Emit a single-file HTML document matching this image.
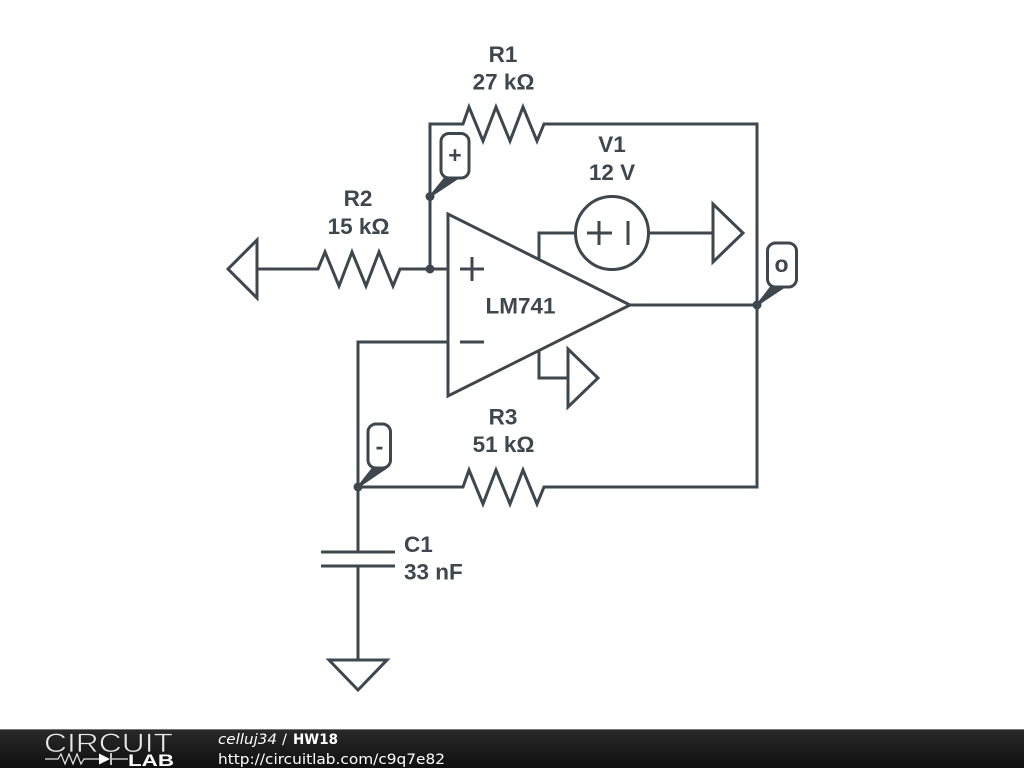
<!DOCTYPE html>
<html>
<head>
<meta charset="utf-8">
<style>
html,body{margin:0;padding:0;background:#fff}
svg{display:block}
</style>
</head>
<body>
<svg width="1024" height="768" viewBox="0 0 1024 768" xmlns="http://www.w3.org/2000/svg">
<defs>
<linearGradient id="f" x1="0" y1="0" x2="0" y2="1">
<stop offset="0" stop-color="#2a2a2a"/>
<stop offset="0.5" stop-color="#1c1c1c"/>
<stop offset="1" stop-color="#101010"/>
</linearGradient>
</defs>
<rect width="1024" height="768" fill="#fff"/>
<g fill="none" stroke="#3d474d" stroke-width="3" stroke-linejoin="miter">
<!-- R1 + feedback -->
<path d="M430 269V124H463L469 107L483 141L496 107L510 141L523 107L537 141L544 124H757V487H544L537 504L523 470L510 504L496 470L483 504L469 470L463 487H358"/>
<!-- R2 -->
<path d="M257 269H318L325 252L339 286L352 252L366 286L379 252L393 286L400 269H448"/>
<path d="M257 240V298L228 269Z"/>
<!-- opamp -->
<path d="M448 214V396L630 305Z"/>
<path d="M460 269H484M472 257V281M460 342H484"/>
<path d="M630 305H757"/>
<path d="M448 342H358V552M358 566V660"/>
<!-- cap -->
<path d="M321 552H395M321 566H395"/>
<!-- ground -->
<path d="M329 660H387L358 690Z"/>
<!-- V1 -->
<path d="M539 260V233H575"/>
<circle cx="612" cy="233" r="36.500"/>
<path d="M587 233H612M599 221V245M628 221V245"/>
<path d="M649 233H713"/>
<path d="M713 204V262L743 233Z"/>
<!-- pin gnd -->
<path d="M539 351V378H568"/>
<path d="M568 349V407L598 378Z"/>
<!-- probes -->
<rect x="441" y="133.500" width="28" height="44.500" rx="8" fill="#fff"/>
<rect x="767.500" y="243" width="29" height="44" rx="8" fill="#fff"/>
<rect x="368" y="424" width="22.500" height="44" rx="8" fill="#fff"/>
</g>
<g fill="#3d474d" stroke="#3d474d" stroke-width="2" stroke-linejoin="round">
<path d="M430 196.500L445 178H458Z"/>
<path d="M757 305L771 287H784Z"/>
<path d="M358 487L373 468H386Z"/>
</g>
<g fill="#3d474d">
<circle cx="430" cy="196.500" r="4.500"/>
<circle cx="430" cy="269" r="4.500"/>
<circle cx="757" cy="305" r="4.500"/>
<circle cx="358" cy="487" r="4.500"/>
</g>
<g font-family="'Liberation Sans',sans-serif" font-weight="700" font-size="22.500" fill="#3d474d" text-anchor="middle">
<text x="503" y="62">R1</text>
<text x="503.500" y="89.500">27 kΩ</text>
<text x="358" y="206">R2</text>
<text x="358.500" y="234">15 kΩ</text>
<text x="612" y="152">V1</text>
<text x="612" y="180">12 V</text>
<text x="520.500" y="313.500">LM741</text>
<text x="503" y="424.500">R3</text>
<text x="503.500" y="452">51 kΩ</text>
<text x="404" y="552" text-anchor="start">C1</text>
<text x="404" y="579.500" text-anchor="start">33 nF</text>
<text x="455" y="163" font-size="23">+</text>
<text x="781.500" y="272" font-size="23">o</text>
<text x="379.500" y="454" font-size="23">-</text>
</g>
<!-- footer -->
<rect x="0" y="729" width="1024" height="39" fill="url(#f)"/>
<rect x="0" y="729" width="1024" height="1" fill="#777"/>
<text x="44" y="752" font-family="'Liberation Sans',sans-serif" font-size="27" fill="#e8e8e8" stroke="#1e1e1e" stroke-width="0.700" textLength="129" lengthAdjust="spacingAndGlyphs">CIRCUIT</text>
<path d="M45 759H58L61 754L65 764L69 754L73 764L77 754L81 764L84 759H99M112 759H128" fill="none" stroke="#e8e8e8" stroke-width="1.200"/>
<path d="M99 753.500V764.500L110 759Z" fill="#fff"/>
<path d="M111 753V765" stroke="#fff" stroke-width="1.500"/>
<text x="128" y="766" font-family="'Liberation Sans',sans-serif" font-weight="700" font-size="17" fill="#fff" textLength="46" lengthAdjust="spacingAndGlyphs">LAB</text>
<g font-family="'DejaVu Sans',sans-serif" fill="#fff">
<text x="218" y="744" font-size="14.600" font-style="italic" textLength="59" lengthAdjust="spacingAndGlyphs">celluj34</text>
<text x="282" y="744" font-size="14.600">/</text>
<text x="293" y="744" font-size="14" font-weight="700" textLength="45" lengthAdjust="spacingAndGlyphs">HW18</text>
<text x="218" y="764" font-size="14.600" textLength="227" lengthAdjust="spacingAndGlyphs">http://circuitlab.com/c9q7e82</text>
</g>
</svg>
</body>
</html>
